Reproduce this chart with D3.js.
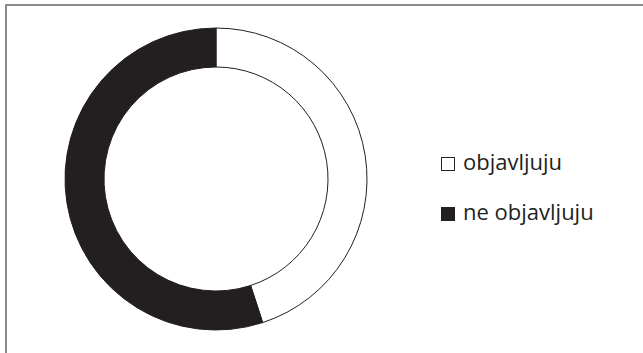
<!DOCTYPE html>
<html><head><meta charset="utf-8">
<script src="https://cdn.jsdelivr.net/npm/d3@7"></script>
<style>body{margin:0;background:#fff}svg{display:block}</style>
</head><body>
<script>
const categories = ["objavljuju", "ne objavljuju"];
const values = [45, 55];
const colors = ["#ffffff", "#231f20"];

const W = 643, H = 353;
const svg = d3.select("body").append("svg").attr("width", W).attr("height", H);

// frame (top and left)
svg.append("path").attr("d", `M6,${H} L6,5 L${W},5`).attr("fill","none")
  .attr("stroke","#8a8a8a").attr("stroke-width",2);

const cx = 216, cy = 179, rOut = 151, rIn = 112;
const pie = d3.pie().sort(null).value(d => d)(values);
const arc = d3.arc().innerRadius(rIn).outerRadius(rOut);
const g = svg.append("g").attr("transform", `translate(${cx},${cy})`);
g.selectAll("path").data(pie).join("path")
  .attr("d", arc).attr("fill", (d,i) => colors[i])
  .attr("stroke", "#231f20").attr("stroke-width", 1);

const leg = svg.append("g");
categories.forEach((c,i) => {
  const y0 = 157 + i*50;
  leg.append("rect").attr("x", 441.5).attr("y", y0+0.5).attr("width", 13).attr("height", 13)
    .attr("fill", colors[i]).attr("stroke", "#231f20").attr("stroke-width", 1);
  leg.append("text").attr("x", 463).attr("y", y0+13)
    .attr("font-family", "'Open Sans', sans-serif").attr("font-size", 22)
    .attr("fill", "#231f20").text(c);
});
</script>
</body></html>
